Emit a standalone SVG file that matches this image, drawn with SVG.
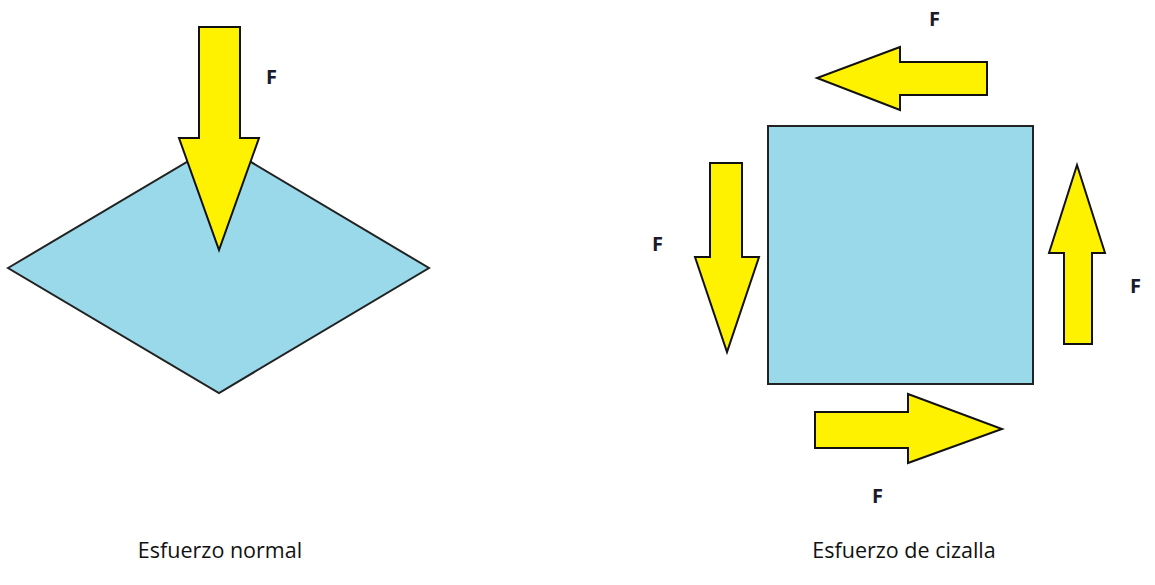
<svg xmlns="http://www.w3.org/2000/svg" width="1155" height="585" viewBox="0 0 1155 585">
<style>
.shape{fill:#99d9ea;stroke:#222;stroke-width:2}
.arrow{fill:#fff200;stroke:#111;stroke-width:2;stroke-linejoin:miter}
.f{font-family:"Open Sans","Liberation Sans",sans-serif;font-weight:bold;font-size:20px;fill:#1a1a2a}
.cap{font-family:"Open Sans","Liberation Sans",sans-serif;font-size:21.5px;fill:#111;text-anchor:middle}
</style>
<rect width="1155" height="585" fill="#fff"/>
<g id="normal">
<polygon class="shape" points="8,268 219,143 429,268 219,393"/>
<polygon class="arrow" points="199,27 240,27 240,138 259,138 219,250 179,138 199,138"/>
<text class="f" x="266" y="84">F</text>
</g>
<g id="cizalla">
<rect class="shape" x="768" y="126" width="265" height="258"/>
<polygon class="arrow" points="987,62 987,95 900,95 900,110 817,78 900,47 900,62"/>
<text class="f" x="929" y="26">F</text>
<polygon class="arrow" points="710,163 742,163 742,257 759,257 727,352 695,257 710,257"/>
<text class="f" x="652" y="251">F</text>
<polygon class="arrow" points="1064,344 1092,344 1092,253 1105,253 1077,165 1049,253 1064,253"/>
<text class="f" x="1130" y="293">F</text>
<polygon class="arrow" points="815,412 908,412 908,394 1002,429 908,463 908,448 815,448"/>
<text class="f" x="872" y="503">F</text>
</g>
<text class="cap" x="220" y="558">Esfuerzo normal</text>
<text class="cap" x="904" y="558">Esfuerzo de cizalla</text>
</svg>
